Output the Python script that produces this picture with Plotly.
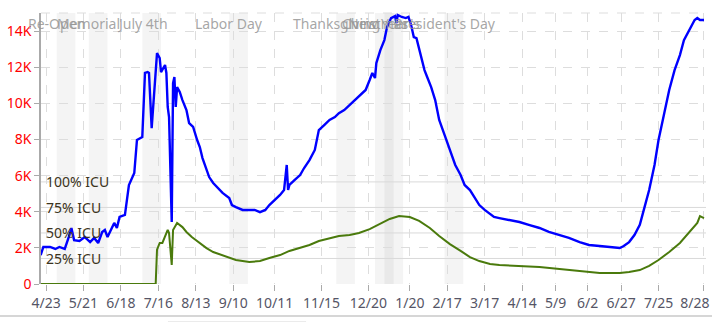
import plotly.graph_objects as go
import pandas as pd

# ---------------- data ----------------
hosp_dates = [
    "2020-04-19", "2020-04-21", "2020-04-26", "2020-04-30", "2020-05-03", "2020-05-07",
    "2020-05-10", "2020-05-12", "2020-05-14", "2020-05-18", "2020-05-22", "2020-05-26",
    "2020-05-29", "2020-06-01", "2020-06-04", "2020-06-06", "2020-06-08", "2020-06-11",
    "2020-06-13", "2020-06-15", "2020-06-17", "2020-06-21", "2020-06-23", "2020-06-24",
    "2020-06-28", "2020-06-30", "2020-07-04", "2020-07-06", "2020-07-08", "2020-07-09",
    "2020-07-11", "2020-07-13", "2020-07-15", "2020-07-17", "2020-07-18", "2020-07-21",
    "2020-07-22", "2020-07-23", "2020-07-24", "2020-07-26", "2020-07-27", "2020-07-28",
    "2020-07-29", "2020-07-30", "2020-08-01", "2020-08-03", "2020-08-06", "2020-08-08",
    "2020-08-11", "2020-08-14", "2020-08-16", "2020-08-18", "2020-08-21", "2020-08-23",
    "2020-08-26", "2020-08-29", "2020-09-02", "2020-09-07", "2020-09-09", "2020-09-12",
    "2020-09-17", "2020-09-22", "2020-09-26", "2020-09-30", "2020-10-04", "2020-10-07",
    "2020-10-11", "2020-10-15", "2020-10-18", "2020-10-20", "2020-10-21", "2020-10-22",
    "2020-10-26", "2020-10-30", "2020-11-02", "2020-11-06", "2020-11-10", "2020-11-13",
    "2020-11-17", "2020-11-21", "2020-11-25", "2020-11-28", "2020-12-02", "2020-12-06",
    "2020-12-10", "2020-12-13", "2020-12-18", "2020-12-21", "2020-12-23", "2020-12-25",
    "2020-12-26", "2020-12-29", "2021-01-01", "2021-01-03", "2021-01-06", "2021-01-09",
    "2021-01-10", "2021-01-11", "2021-01-14", "2021-01-17", "2021-01-19", "2021-01-21",
    "2021-01-23", "2021-01-25", "2021-01-28", "2021-01-31", "2021-02-02", "2021-02-05",
    "2021-02-08", "2021-02-11", "2021-02-15", "2021-02-19", "2021-02-23", "2021-02-27",
    "2021-03-02", "2021-03-06", "2021-03-10", "2021-03-13", "2021-03-17", "2021-03-21",
    "2021-03-24", "2021-03-28", "2021-04-04", "2021-04-12", "2021-04-19", "2021-04-27",
    "2021-05-04", "2021-05-12", "2021-05-19", "2021-05-27", "2021-06-03", "2021-06-11",
    "2021-06-18", "2021-06-26", "2021-06-29", "2021-07-03", "2021-07-07", "2021-07-11",
    "2021-07-14", "2021-07-18", "2021-07-22", "2021-07-25", "2021-07-29", "2021-08-02",
    "2021-08-06", "2021-08-10", "2021-08-13", "2021-08-17", "2021-08-21", "2021-08-23",
    "2021-08-25", "2021-08-28",
]
hosp_values = [
    1600, 2050, 2050, 1940, 2050, 1940,
    2600, 3100, 2430, 2380, 2600, 2320,
    2550, 2270, 2880, 2990, 2600, 3100,
    3380, 3100, 3710, 3820, 4810, 5480,
    6140, 7970, 8130, 11680, 11730, 11680,
    8630, 10740, 12780, 12510, 11730, 12120,
    11680, 9800, 9240, 3430, 11120, 11460,
    9800, 10900, 10630, 10180, 9630, 8910,
    8690, 7970, 7580, 6970, 6310, 5920,
    5590, 5370, 5040, 4760, 4370, 4260,
    4100, 4100, 4100, 3980, 4100, 4370,
    4650, 4930, 5200, 6590, 5200, 5480,
    5760, 6030, 6420, 6860, 7420, 8520,
    8800, 9080, 9240, 9460, 9630, 9910,
    10180, 10350, 10740, 11290, 11680, 11400,
    12230, 12950, 13500, 14220, 14720, 14830,
    14440, 14890, 14780, 14720, 14780, 14330,
    13670, 13610, 12780, 11840, 11460, 10900,
    10180, 9080, 8250, 7420, 6590, 6030,
    5480, 5200, 4760, 4370, 4100, 3870,
    3710, 3650, 3540, 3430, 3270, 3100,
    2880, 2710, 2550, 2320, 2160, 2100,
    2050, 1990, 2100, 2320, 2710, 3270,
    4100, 5200, 6590, 7970, 9350, 10740,
    11840, 12670, 13500, 14060, 14610, 14720,
    14610, 14610,
]

icu_dates = [
    "2020-04-19", "2020-07-14", "2020-07-15", "2020-07-17", "2020-07-19", "2020-07-22",
    "2020-07-23", "2020-07-24", "2020-07-26", "2020-07-27", "2020-07-28", "2020-07-30",
    "2020-08-03", "2020-08-06", "2020-08-10", "2020-08-16", "2020-08-21", "2020-08-26",
    "2020-09-02", "2020-09-07", "2020-09-12", "2020-09-22", "2020-09-30", "2020-10-07",
    "2020-10-15", "2020-10-22", "2020-10-30", "2020-11-06", "2020-11-13", "2020-11-21",
    "2020-11-28", "2020-12-06", "2020-12-13", "2020-12-21", "2020-12-28", "2021-01-05",
    "2021-01-12", "2021-01-20", "2021-01-27", "2021-02-04", "2021-02-11", "2021-02-19",
    "2021-02-27", "2021-03-06", "2021-03-13", "2021-03-21", "2021-03-28", "2021-04-12",
    "2021-04-27", "2021-05-12", "2021-05-27", "2021-06-11", "2021-06-26", "2021-07-03",
    "2021-07-11", "2021-07-18", "2021-07-25", "2021-08-02", "2021-08-10", "2021-08-17",
    "2021-08-23", "2021-08-25", "2021-08-28",
]
icu_values = [
    0, 0, 1900, 2270, 2270, 2820,
    2990, 2820, 1050, 2990, 3100, 3380,
    3150, 2880, 2600, 2270, 1990, 1770,
    1600, 1490, 1330, 1220, 1270, 1440,
    1600, 1830, 1990, 2160, 2380, 2550,
    2660, 2710, 2820, 3040, 3320, 3600,
    3760, 3710, 3490, 3100, 2660, 2210,
    1830, 1490, 1270, 1110, 1050, 1000,
    940, 830, 720, 610, 610, 660,
    770, 1000, 1330, 1770, 2270, 2880,
    3380, 3760, 3650,
]

holiday_names = ["Re-Open", "Memorial", "July 4th", "Labor Day", "Thanksgiving",
                 "Christmas", "New Year's", "President's Day"]
holiday_dates = ["2020-05-01", "2020-05-25", "2020-07-04", "2020-09-07", "2020-11-26",
                 "2020-12-25", "2021-01-01", "2021-02-15"]

icu_capacity = 5650
icu_levels = [1.0, 0.75, 0.5, 0.25]
icu_labels = ["100% ICU", "75% ICU", "50% ICU", "25% ICU"]

tick_dates = ["2020-04-23", "2020-05-21", "2020-06-18", "2020-07-16", "2020-08-13",
              "2020-09-10", "2020-10-11", "2020-11-15", "2020-12-20", "2021-01-20",
              "2021-02-17", "2021-03-17", "2021-04-14", "2021-05-09", "2021-06-02",
              "2021-06-27", "2021-07-25", "2021-08-28"]
tick_labels = ["4/23", "5/21", "6/18", "7/16", "8/13", "9/10", "10/11", "11/15", "12/20",
               "1/20", "2/17", "3/17", "4/14", "5/9", "6/2", "6/27", "7/25",
               "8/28\u00a0\u00a0\u00a0\u00a0\u00a0"]

y_tickvals = [0, 2000, 4000, 6000, 8000, 10000, 12000, 14000]
y_ticktext = ["0", "2K", "4K", "6K", "8K", "10K", "12K", "14K"]

# ---------------- figure ----------------
FONT = "Segoe UI, Noto Sans, Open Sans, sans-serif"
x_start = "2020-04-19 06:00"
x_end = "2021-08-29 12:00"
y_max = 15000

fig = go.Figure()

shapes = []
for d in holiday_dates:
    d0 = pd.Timestamp(d)
    shapes.append(dict(type="rect", xref="x", yref="paper", x0=d0, x1=d0 + pd.Timedelta(days=14),
                       y0=0, y1=1, fillcolor="rgba(0,0,0,0.045)", line=dict(width=0), layer="below"))

for lvl in icu_levels:
    shapes.append(dict(type="line", xref="x", yref="y", x0=x_start, x1=x_end,
                       y0=icu_capacity * lvl, y1=icu_capacity * lvl,
                       line=dict(color="#d9d9d9", width=1), layer="below"))

# top frame dashed line
shapes.append(dict(type="line", xref="paper", yref="paper", x0=0, x1=1, y0=1, y1=1,
                   line=dict(color="#dddddd", width=1, dash="dash"), layer="below"))
# bottom page separator and scroll thumb
shapes.append(dict(type="line", xref="paper", yref="paper", x0=-0.07, x1=1.02, y0=-0.118, y1=-0.118,
                   line=dict(color="#c8c8c8", width=1.5)))
shapes.append(dict(type="rect", xref="paper", yref="paper", x0=(168 - 41) / 665, x1=(306 - 41) / 665,
                   y0=-0.14, y1=-0.16, fillcolor="#e6e6e6", line=dict(color="#dcdcdc", width=1)))

fig.add_trace(go.Scatter(x=hosp_dates, y=hosp_values, mode="lines",
                         line=dict(color="#0000ff", width=2.4), hoverinfo="skip"))
fig.add_trace(go.Scatter(x=icu_dates, y=icu_values, mode="lines",
                         line=dict(color="#4a7a0c", width=2), hoverinfo="skip"))

annotations = []
for name, d in zip(holiday_names, holiday_dates):
    annotations.append(dict(x=d, y=0.96, xref="x", yref="paper", text=name, showarrow=False,
                            xanchor="center", yanchor="middle",
                            font=dict(family=FONT, size=14, color="rgba(150,150,150,0.85)")))
for lvl, lab in zip(icu_levels, icu_labels):
    annotations.append(dict(x=x_start, y=icu_capacity * lvl, xref="x", yref="y", text=lab,
                            showarrow=False, xanchor="left", yanchor="middle", xshift=3,
                            font=dict(family=FONT, size=14, color="#3b3320")))

fig.update_layout(
    width=712, height=322,
    margin=dict(l=41, r=6, t=13, b=38, autoexpand=False),
    paper_bgcolor="white", plot_bgcolor="white",
    showlegend=False,
    shapes=shapes, annotations=annotations,
    font=dict(family=FONT, size=14),
)
fig.update_xaxes(
    range=[x_start, x_end], type="date",
    tickvals=tick_dates, ticktext=tick_labels,
    showgrid=True, gridcolor="#dddddd", griddash="dash", gridwidth=1,
    ticks="outside", ticklen=6, tickcolor="#aaaaaa",
    showline=False, zeroline=False,
    ticklabeloverflow="allow", automargin=False,
    tickfont=dict(family=FONT, size=14, color="#555566"),
)
fig.update_yaxes(
    range=[0, y_max],
    tickvals=y_tickvals, ticktext=y_ticktext,
    showgrid=True, gridcolor="#dddddd", griddash="dash", gridwidth=1,
    ticks="outside", ticklen=5, tickcolor="#aaaaaa",
    showline=True, linecolor="#aaaaaa", linewidth=1.5,
    zeroline=False, automargin=False,
    tickfont=dict(family=FONT, size=14, color="#ff0000"),
)

fig.write_html("out.html")
